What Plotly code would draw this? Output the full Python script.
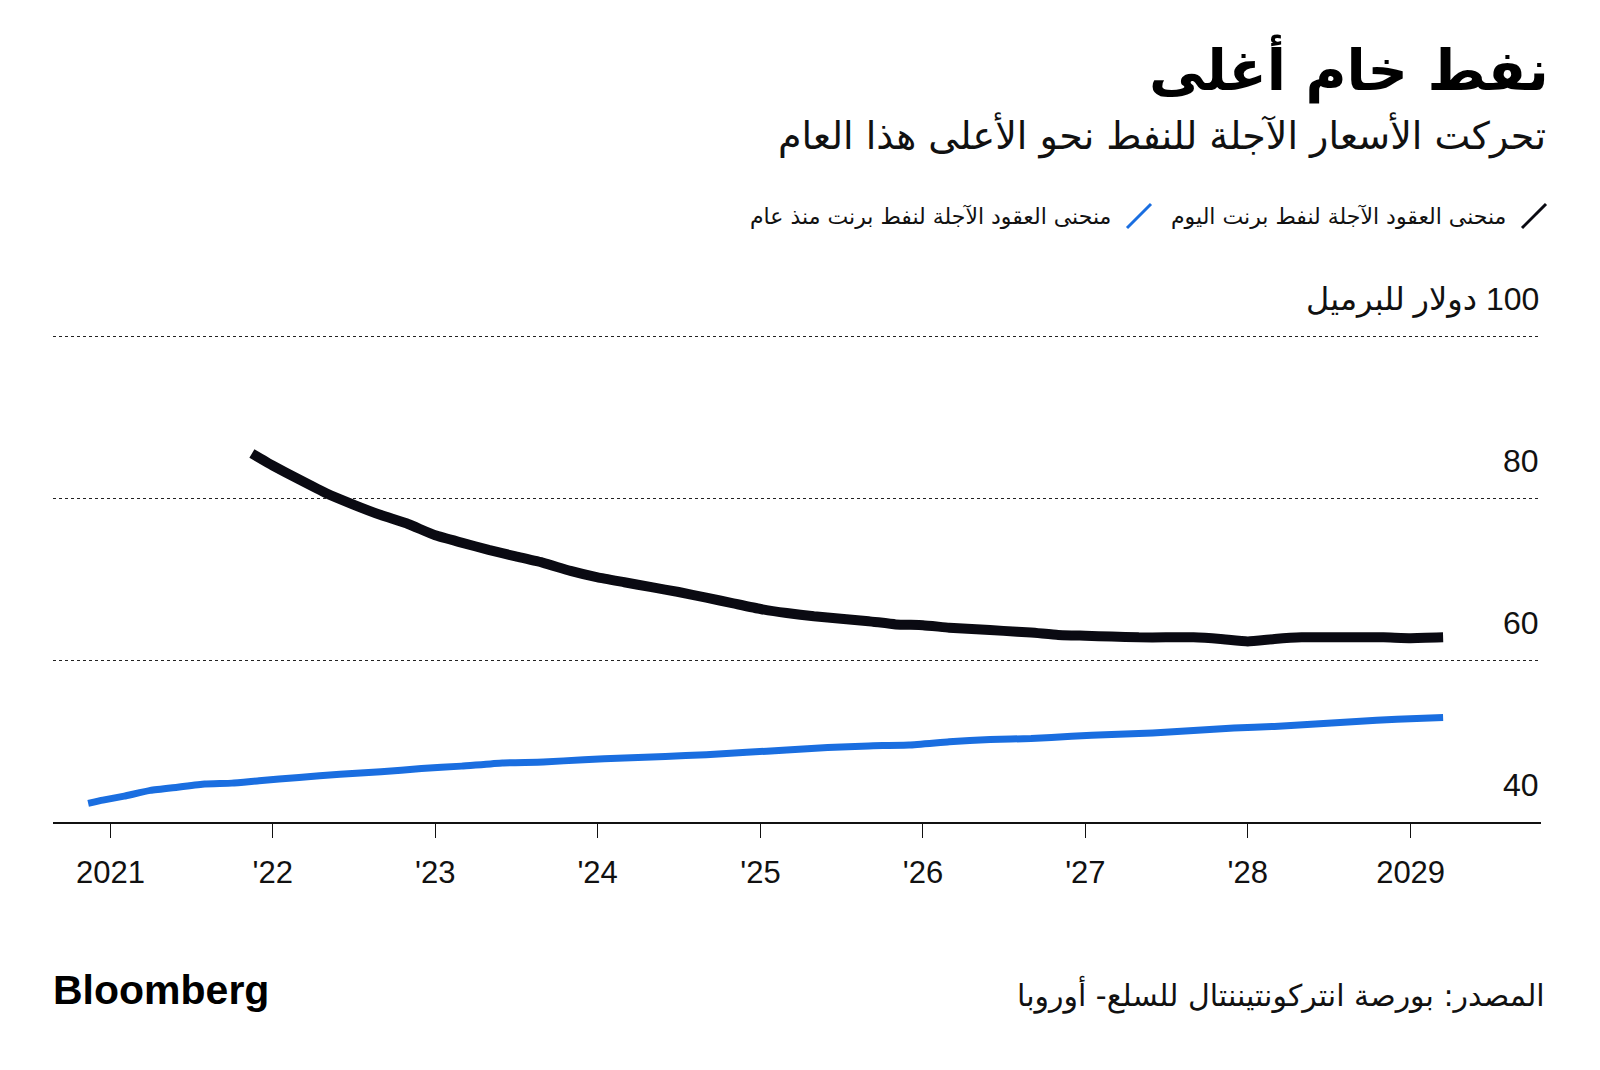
import plotly.graph_objects as go

# ---- data ----
today_dates = ["2021-11-15", "2022-01-01", "2022-03-01", "2022-05-01", "2022-07-01", "2022-09-01",
               "2022-11-01", "2023-01-01", "2023-03-01", "2023-05-01", "2023-07-01", "2023-09-01",
               "2023-11-01", "2024-01-01", "2024-03-01", "2024-05-01", "2024-07-01", "2024-09-01",
               "2024-11-01", "2025-01-01", "2025-03-01", "2025-05-01", "2025-07-01", "2025-09-01",
               "2025-11-01", "2026-01-01", "2026-03-01", "2026-05-01", "2026-07-01", "2026-09-01",
               "2026-11-01", "2027-01-01", "2027-03-01", "2027-05-01", "2027-07-01", "2027-09-01",
               "2027-11-01", "2028-01-01", "2028-03-01", "2028-05-01", "2028-07-01", "2028-09-01",
               "2028-11-01", "2029-01-01", "2029-03-15"]
today_values = [85.5, 84.0, 82.3, 80.6, 79.2, 77.9,
                76.8, 75.4, 74.5, 73.6, 72.8, 72.0,
                71.0, 70.2, 69.6, 69.0, 68.4, 67.7,
                67.0, 66.3, 65.8, 65.4, 65.1, 64.8,
                64.4, 64.3, 64.0, 63.8, 63.6, 63.4,
                63.1, 63.0, 62.9, 62.8, 62.8, 62.8,
                62.6, 62.3, 62.6, 62.8, 62.8, 62.8,
                62.8, 62.7, 62.8]

year_ago_dates = ["2020-11-12", "2020-12-15", "2021-02-01", "2021-04-01", "2021-06-01", "2021-08-01",
                  "2021-10-01", "2021-12-01", "2022-03-01", "2022-06-01", "2022-09-01", "2022-12-01",
                  "2023-03-01", "2023-06-01", "2023-09-01", "2023-12-01", "2024-03-01", "2024-06-01",
                  "2024-09-01", "2024-12-01", "2025-03-01", "2025-06-01", "2025-09-01", "2025-12-01",
                  "2026-03-01", "2026-06-01", "2026-09-01", "2026-12-01", "2027-03-01", "2027-06-01",
                  "2027-09-01", "2027-12-01", "2028-03-01", "2028-06-01", "2028-09-01", "2028-12-01",
                  "2029-03-15"]
year_ago_values = [42.3, 42.7, 43.2, 43.9, 44.3, 44.7,
                   44.8, 45.1, 45.5, 45.9, 46.2, 46.6,
                   46.9, 47.3, 47.4, 47.7, 47.9, 48.1,
                   48.3, 48.6, 48.9, 49.2, 49.4, 49.5,
                   49.9, 50.2, 50.3, 50.6, 50.8, 51.0,
                   51.3, 51.6, 51.8, 52.1, 52.4, 52.7,
                   52.9]

x_tick_vals = ["2021-01-01", "2022-01-01", "2023-01-01", "2024-01-01", "2025-01-01",
               "2026-01-01", "2027-01-01", "2028-01-01", "2029-01-01"]
x_tick_text = ["2021", "'22", "'23", "'24", "'25", "'26", "'27", "'28", "2029"]
y_tick_vals = [40, 60, 80, 100]
y_tick_text = ["40", "60", "80", "دولار للبرميل\u200e 100"]

title_text = "نفط خام أغلى"
subtitle_text = "تحركت الأسعار الآجلة للنفط نحو الأعلى هذا العام"
legend_today = "منحنى العقود الآجلة لنفط برنت اليوم"
legend_year_ago = "منحنى العقود الآجلة لنفط برنت منذ عام"
source_text = "المصدر: بورصة انتركونتيننتال للسلع- أوروبا"

BLACK = "#0a0a12"
BLUE = "#1a6ee0"
AR_FONT = "DejaVu Sans"
NUM_FONT = "Liberation Sans"

W, H = 1600, 1070
OFF = 8  # page body margin
ML, MR, MT, MB = 45, 67, 320, 256
PW, PH = W - ML - MR, H - MT - MB


def pos(px, py):
    """page pixel coords (top-left origin) -> paper coords"""
    fx, fy = px - OFF, py - OFF
    return (fx - ML) / PW, (H - MB - fy) / PH


fig = go.Figure()
fig.add_trace(go.Scatter(x=year_ago_dates, y=year_ago_values, mode="lines",
                         line=dict(color=BLUE, width=7, shape="spline", smoothing=0.4),
                         showlegend=False, hoverinfo="skip"))
fig.add_trace(go.Scatter(x=today_dates, y=today_values, mode="lines",
                         line=dict(color=BLACK, width=10, shape="spline", smoothing=0.4),
                         showlegend=False, hoverinfo="skip"))

fig.update_layout(
    width=W, height=H,
    margin=dict(l=ML, r=MR, t=MT, b=MB),
    paper_bgcolor="white", plot_bgcolor="white",
    xaxis=dict(
        type="date", range=["2020-08-25", "2029-10-21"],
        tickvals=x_tick_vals, ticktext=x_tick_text,
        ticks="outside", ticklen=14, tickwidth=1, tickcolor="#111",
        ticklabelstandoff=8,
        showline=True, linecolor="#111", linewidth=2,
        showgrid=False, zeroline=False,
        tickfont=dict(family=NUM_FONT, size=31, color="#111"),
    ),
    yaxis=dict(
        range=[40, 101], tickvals=y_tick_vals, showticklabels=False,
        showgrid=True, gridcolor="#222", gridwidth=1, griddash="dot",
        zeroline=False, showline=False, fixedrange=True,
    ),
)

annotations = []
for v, t in zip(y_tick_vals, y_tick_text):
    annotations.append(dict(x=1, xref="paper", y=v, yref="y", yshift=37,
                            text=t, showarrow=False, xanchor="right", yanchor="middle",
                            font=dict(family=NUM_FONT + ", " + AR_FONT, size=32, color="#111")))


def ann(px, py, text, anchor, size, family=AR_FONT, color="#111"):
    x, y = pos(px, py)
    return dict(x=x, y=y, xref="paper", yref="paper", text=text, showarrow=False,
                xanchor=anchor, yanchor="middle", font=dict(family=family, size=size, color=color))


annotations += [
    ann(1551, 69, f"<b>{title_text}</b>", "right", 56, color="#000"),
    ann(1548, 135, subtitle_text, "right", 38),
    ann(1508, 216, legend_today, "right", 22),
    ann(1113, 216, legend_year_ago, "right", 22),
    ann(51, 990, "<b>Bloomberg</b>", "left", 41, family="Liberation Sans", color="#000"),
    ann(1547, 994, source_text, "right", 30),
]
fig.update_layout(annotations=annotations)

# legend slashes
for (x0, y0, x1, y1, c) in [(1522, 228, 1546, 204, BLACK), (1127, 228, 1151, 204, BLUE)]:
    a0 = pos(x0, y0)
    a1 = pos(x1, y1)
    fig.add_shape(type="line", xref="paper", yref="paper", x0=a0[0], y0=a0[1], x1=a1[0], y1=a1[1],
                  line=dict(color=c, width=3))

fig.write_html("out.html")
